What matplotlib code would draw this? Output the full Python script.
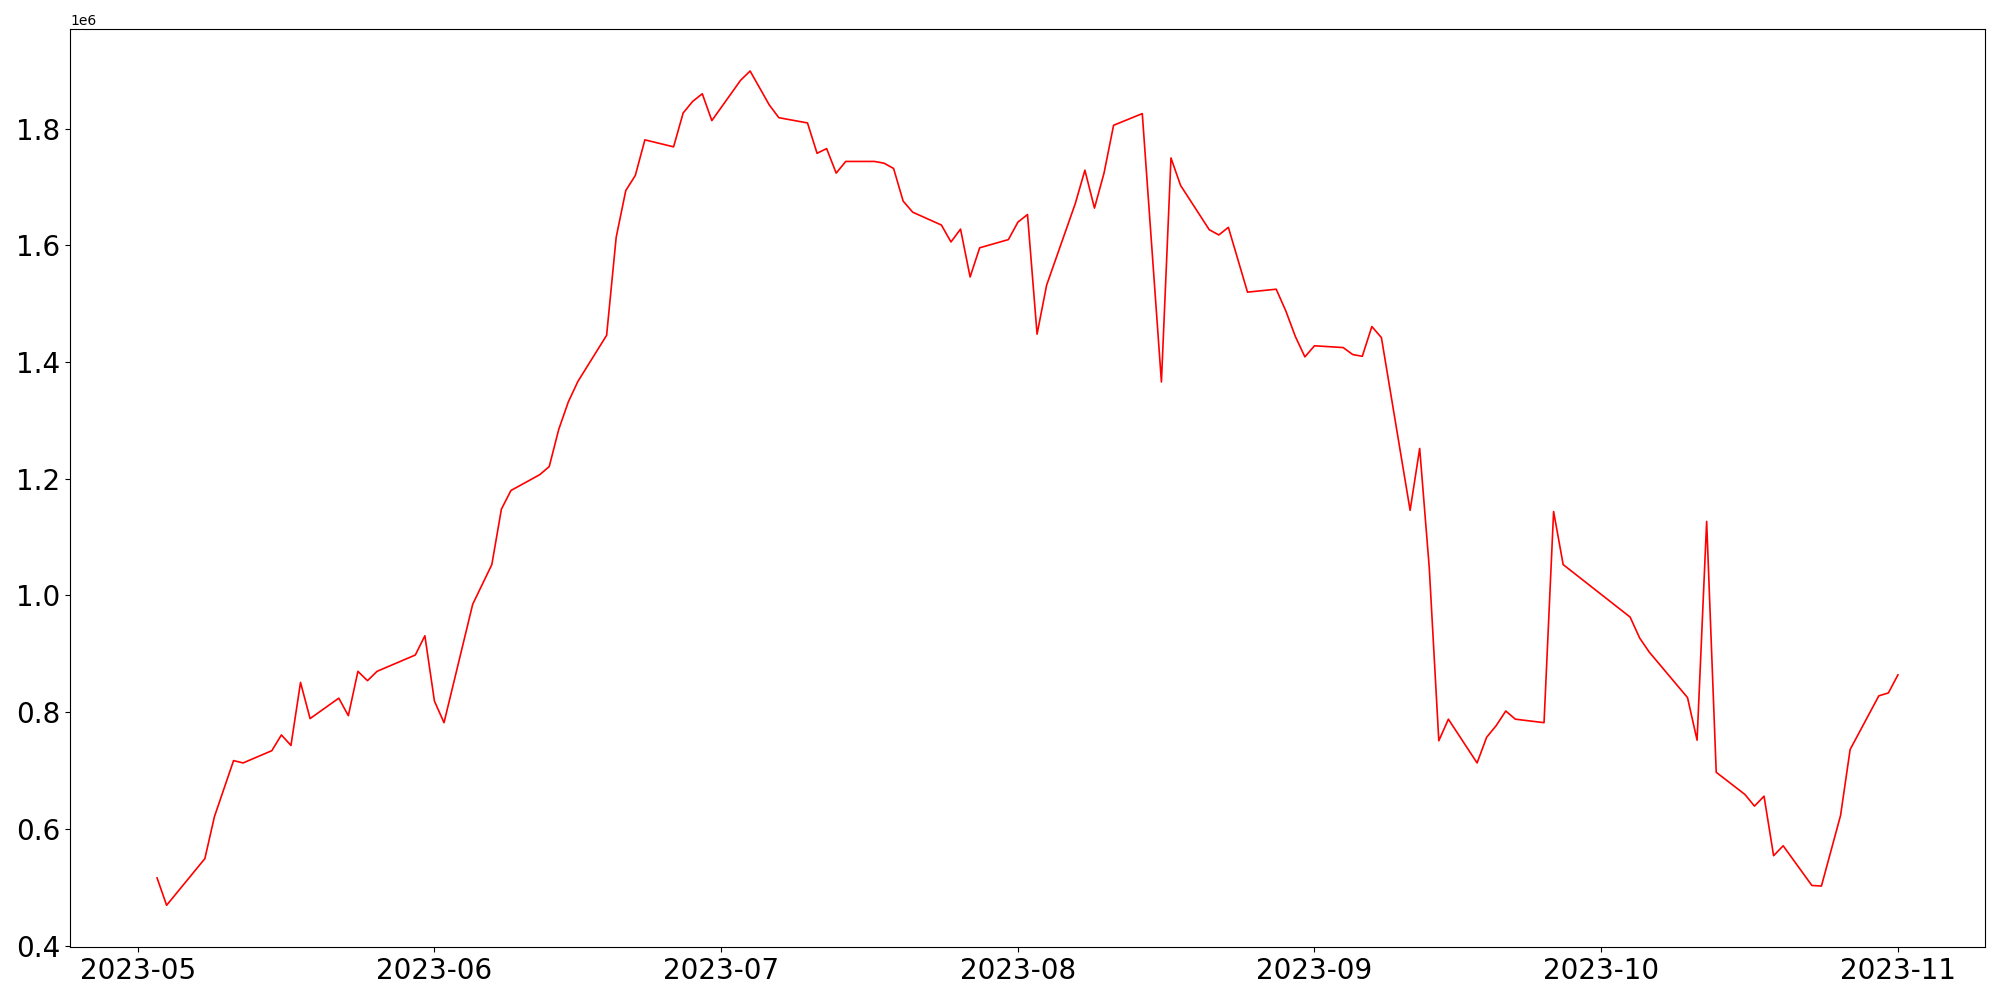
import pandas as pd
import matplotlib
matplotlib.use("Agg")
import matplotlib.pyplot as plt

# trading days
dates = [
    "2023-05-03", "2023-05-04", "2023-05-08", "2023-05-09", "2023-05-11", "2023-05-12",
    "2023-05-15", "2023-05-16", "2023-05-17", "2023-05-18", "2023-05-19", "2023-05-22",
    "2023-05-23", "2023-05-24", "2023-05-25", "2023-05-26", "2023-05-30", "2023-05-31",
    "2023-06-01", "2023-06-02", "2023-06-05", "2023-06-07", "2023-06-08", "2023-06-09",
    "2023-06-12", "2023-06-13", "2023-06-14", "2023-06-15", "2023-06-16", "2023-06-19",
    "2023-06-20", "2023-06-21", "2023-06-22", "2023-06-23", "2023-06-26", "2023-06-27",
    "2023-06-28", "2023-06-29", "2023-06-30",
    "2023-07-03", "2023-07-04", "2023-07-06", "2023-07-07", "2023-07-10", "2023-07-11",
    "2023-07-12", "2023-07-13", "2023-07-14", "2023-07-17", "2023-07-18", "2023-07-19",
    "2023-07-20", "2023-07-21", "2023-07-24", "2023-07-25", "2023-07-26", "2023-07-27",
    "2023-07-28", "2023-07-31",
    "2023-08-01", "2023-08-02", "2023-08-03", "2023-08-04", "2023-08-07", "2023-08-08",
    "2023-08-09", "2023-08-10", "2023-08-11", "2023-08-14", "2023-08-16", "2023-08-17",
    "2023-08-18", "2023-08-21", "2023-08-22", "2023-08-23", "2023-08-25", "2023-08-28",
    "2023-08-29", "2023-08-30", "2023-08-31",
    "2023-09-01", "2023-09-04", "2023-09-05", "2023-09-06", "2023-09-07", "2023-09-08",
    "2023-09-11", "2023-09-12", "2023-09-13", "2023-09-14", "2023-09-15", "2023-09-18",
    "2023-09-19", "2023-09-20", "2023-09-21", "2023-09-22", "2023-09-25", "2023-09-26",
    "2023-09-27",
    "2023-10-04", "2023-10-05", "2023-10-06", "2023-10-10", "2023-10-11", "2023-10-12",
    "2023-10-13", "2023-10-16", "2023-10-17", "2023-10-18", "2023-10-19", "2023-10-20",
    "2023-10-23", "2023-10-24", "2023-10-26", "2023-10-27", "2023-10-30", "2023-10-31",
    "2023-11-01",
]

values = [
    516000, 469000, 549000, 621000, 717000, 713000,
    734000, 761000, 743000, 851000, 789000, 824000,
    794000, 870000, 854000, 870000, 898000, 931000,
    819000, 782000, 985000, 1053000, 1148000, 1180000,
    1207000, 1221000, 1285000, 1332000, 1367000, 1446000,
    1614000, 1694000, 1720000, 1781000, 1769000, 1827000,
    1847000, 1860000, 1814000,
    1883000, 1899000, 1841000, 1819000, 1810000, 1758000,
    1766000, 1724000, 1744000, 1744000, 1741000, 1732000,
    1676000, 1657000, 1635000, 1606000, 1628000, 1546000,
    1596000, 1610000,
    1640000, 1653000, 1448000, 1532000, 1672000, 1729000,
    1664000, 1724000, 1806000, 1826000, 1366000, 1750000,
    1703000, 1627000, 1618000, 1631000, 1520000, 1525000,
    1488000, 1444000, 1409000,
    1428000, 1425000, 1413000, 1410000, 1461000, 1442000,
    1146000, 1252000, 1048000, 751000, 788000, 713000,
    757000, 777000, 802000, 788000, 782000, 1144000,
    1053000,
    963000, 927000, 903000, 825000, 752000, 1127000,
    697000, 659000, 639000, 656000, 554000, 571000,
    503000, 502000, 623000, 736000, 828000, 833000,
    864000,
]

df = pd.DataFrame({"date": pd.to_datetime(dates), "value": values})

fig, ax = plt.subplots(figsize=(20, 10), dpi=100)
ax.plot(df["date"], df["value"], color="red", linewidth=1.2)
ax.tick_params(axis="both", labelsize=20)
ax.yaxis.get_offset_text().set_fontsize(10)
fig.subplots_adjust(left=0.035, right=0.9925, top=0.9707, bottom=0.053)
fig.savefig("out.png", dpi=100)
